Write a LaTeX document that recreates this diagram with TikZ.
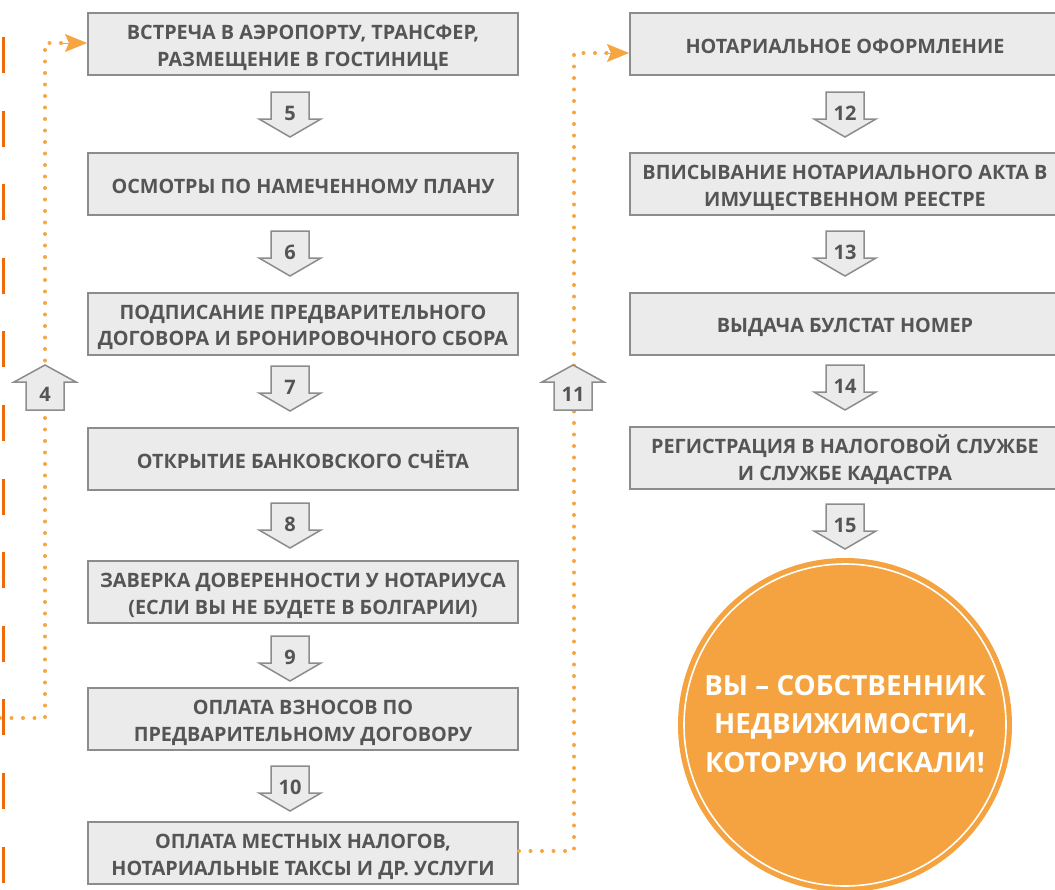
\documentclass[tikz,border=0pt]{standalone}
\usepackage{fontspec}
\setmainfont{Open Sans}
\usetikzlibrary{arrows.meta}
\definecolor{boxfill}{HTML}{EBEBEB}
\definecolor{boxline}{HTML}{8C8C8C}
\definecolor{txt}{HTML}{555555}
\definecolor{dashorange}{HTML}{EE6A0A}
\definecolor{dotorange}{HTML}{F6A540}
\definecolor{circorange}{HTML}{F4A340}
\tikzset{
  stepbox/.style={draw=boxline, line width=2pt, fill=boxfill, minimum width=430pt, minimum height=62pt,
    align=center, text=txt, font=\fontsize{19.8}{26.5}\selectfont\bfseries, inner sep=0pt,
    text height=18.3pt, text depth=0pt},
  twoline/.style={text height=44.8pt, text depth=0pt},
  arrshape/.style={draw=boxline, line width=1.5pt, fill=boxfill, line join=miter},
  arrlabel/.style={text=txt, font=\fontsize{20}{22}\selectfont\bfseries, inner sep=0pt},
  dotline/.style={draw=dotorange, line width=4pt, line cap=round, dash pattern=on 0pt off 11.5pt},
  dotarrow/.style={-{Stealth[length=22pt,width=18pt,inset=4pt]}, draw=dotorange, fill=dotorange},
}
\newcommand{\darr}[4]{% name, x, ytop, label
  \draw[arrshape] (#2-19,#3) -- (#2+19,#3) -- (#2+19,#3+27) -- (#2+31,#3+27) -- (#2,#3+45)
    -- (#2-31,#3+27) -- (#2-19,#3+27) -- cycle;
  \node[arrlabel] (#1) at (#2,#3+21) {#4};}
\newcommand{\uarr}[4]{% name, x, ytop (apex), label
  \draw[arrshape] (#2,#3) -- (#2+31,#3+17) -- (#2+19,#3+17) -- (#2+19,#3+45) -- (#2-19,#3+45)
    -- (#2-19,#3+17) -- (#2-31,#3+17) -- cycle;
  \node[arrlabel] (#1) at (#2,#3+29) {#4};}
\begin{document}
\begin{tikzpicture}[x=1pt,y=-1pt]
\useasboundingbox (0,0) rectangle (1055,889);
% left orange dashed line
\draw[dashorange, line width=3pt, dash pattern=on 36pt off 37.6pt] (3,37) -- (3,889);
% boxes left
\node[stepbox,twoline] (b1) at (303,44) {ВСТРЕЧА В АЭРОПОРТУ, ТРАНСФЕР,\\РАЗМЕЩЕНИЕ В ГОСТИНИЦЕ};
\node[stepbox] (b2) at (303,184) {ОСМОТРЫ ПО НАМЕЧЕННОМУ ПЛАНУ};
\node[stepbox,twoline] (b3) at (303,323.5) {ПОДПИСАНИЕ ПРЕДВАРИТЕЛЬНОГО\\ДОГОВОРА И БРОНИРОВОЧНОГО СБОРА};
\node[stepbox] (b4) at (303,459) {ОТКРЫТИЕ БАНКОВСКОГО СЧЁТА};
\node[stepbox,twoline] (b5) at (303,592) {ЗАВЕРКА ДОВЕРЕННОСТИ У НОТАРИУСА\\(ЕСЛИ ВЫ НЕ БУДЕТЕ В БОЛГАРИИ)};
\node[stepbox,twoline] (b6) at (303,719) {ОПЛАТА ВЗНОСОВ ПО\\ПРЕДВАРИТЕЛЬНОМУ ДОГОВОРУ};
\node[stepbox,twoline] (b7) at (303,853) {ОПЛАТА МЕСТНЫХ НАЛОГОВ,\\НОТАРИАЛЬНЫЕ ТАКСЫ И ДР. УСЛУГИ};
% boxes right
\node[stepbox] (r1) at (845,44) {НОТАРИАЛЬНОЕ ОФОРМЛЕНИЕ};
\node[stepbox,twoline] (r2) at (845,184) {ВПИСЫВАНИЕ НОТАРИАЛЬНОГО АКТА В\\ИМУЩЕСТВЕННОМ РЕЕСТРЕ};
\node[stepbox] (r3) at (845,323.5) {ВЫДАЧА БУЛСТАТ НОМЕР};
\node[stepbox,twoline] (r4) at (845,458) {РЕГИСТРАЦИЯ В НАЛОГОВОЙ СЛУЖБЕ\\И СЛУЖБЕ КАДАСТРА};
% dotted connectors
\coordinate (lstart) at (0,718);
\coordinate (lcorner1) at (45,718);
\coordinate (lcorner2) at (45,43);
\draw[dotline] (lstart) -- (lcorner1) -- (lcorner2) -- (63,43);
\draw[dotarrow] (60,43) -- (b1.west |- 0,43);
\coordinate (rcorner1) at (574,851);
\coordinate (rcorner2) at (574,53);
\draw[dotline] (b7.east |- 0,851) -- (rcorner1) -- (rcorner2) -- (607,53);
\draw[dotarrow] (604,53) -- (r1.west |- 0,53);
% step arrows
\darr{a5}{290}{92}{5}
\darr{a6}{290}{231}{6}
\darr{a7}{290}{366}{7}
\darr{a8}{290}{503}{8}
\darr{a9}{290}{636}{9}
\darr{a10}{290}{766}{10}
\darr{a12}{845}{92}{12}
\darr{a13}{845}{231}{13}
\darr{a14}{845}{365}{14}
\darr{a15}{845}{504}{15}
\uarr{a4}{45}{365}{4}
\uarr{a11}{573}{365}{11}
% final circle
\fill[circorange] (845,725) circle[radius=167];
\draw[white, line width=1.6pt] (845,725) circle[radius=161];
\node[text=white, align=center, font=\fontsize{27.8}{38.5}\selectfont\bfseries, inner sep=0pt] (goal) at (845,724)
  {ВЫ – СОБСТВЕННИК\\НЕДВИЖИМОСТИ,\\КОТОРУЮ ИСКАЛИ!};
\end{tikzpicture}
\end{document}
